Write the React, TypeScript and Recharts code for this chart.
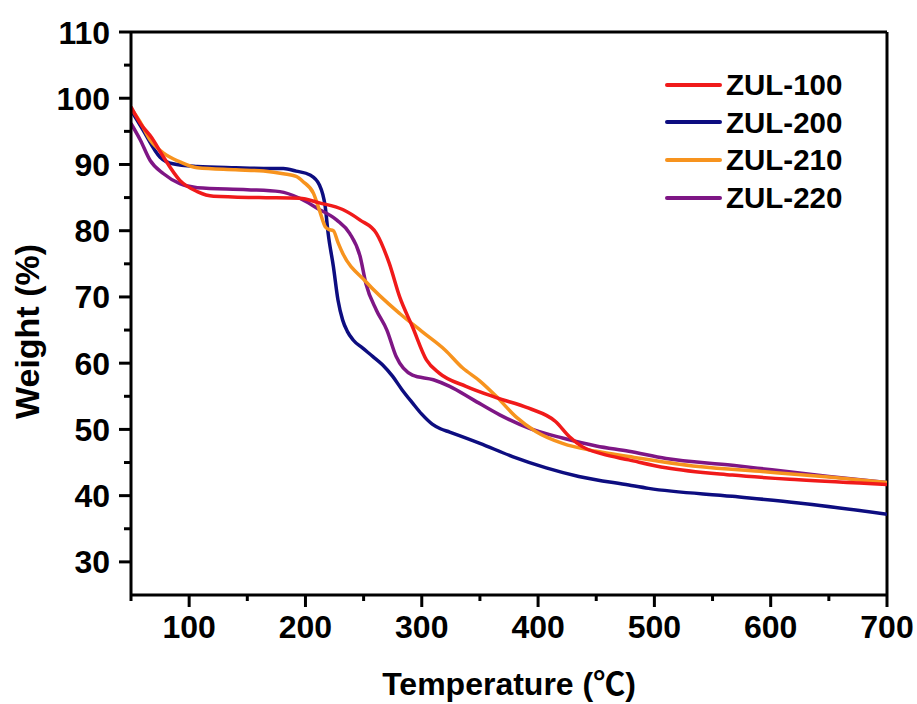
import { LineChart, Line, XAxis, YAxis, Legend, Label, ReferenceLine } from 'recharts';

const FONT = 'Arial, "Liberation Sans", "Noto Sans CJK SC", sans-serif';

// ZUL-100
const t100 = [50, 58, 68, 78, 92, 107, 121, 160, 195, 212, 232, 247, 261, 272, 281, 292, 304, 315, 338, 364, 392, 415, 427, 438, 455, 478, 510, 567, 624, 700];
const w100 = [98.7, 96.2, 94.0, 91.1, 87.6, 85.9, 85.2, 85.0, 84.9, 84.2, 83.2, 81.6, 79.6, 75.1, 70.0, 65.5, 60.5, 58.5, 56.5, 54.8, 53.2, 51.2, 48.9, 47.4, 46.3, 45.4, 44.2, 43.1, 42.4, 41.7];

// ZUL-200
const t200 = [50, 60, 75, 86, 107, 140, 164, 181, 192, 204, 212, 217, 219.5, 224, 228, 232, 236, 241, 249, 258, 266, 275, 283, 292, 300, 309, 316, 324, 350, 378, 407, 435, 478, 495, 567, 624, 700];
const w200 = [98.2, 95.3, 91.1, 90.1, 89.7, 89.5, 89.4, 89.4, 89.0, 88.4, 86.9, 83.6, 79.6, 74.6, 69.5, 66.5, 64.8, 63.5, 62.3, 61.0, 59.8, 58.0, 56.0, 54.0, 52.3, 50.8, 50.1, 49.6, 47.9, 45.9, 44.2, 42.9, 41.6, 41.1, 39.9, 38.9, 37.2];

// ZUL-210
const t210 = [50, 58, 66.5, 78, 92, 107, 140, 164, 181, 192, 198, 207, 212, 217, 220, 224, 228, 232, 252, 281, 300, 320, 335, 350, 364, 381, 398, 421, 450, 478, 538, 595, 650, 700];
const w210 = [98.5, 96.4, 93.7, 91.7, 90.4, 89.5, 89.2, 89.0, 88.6, 88.2, 87.4, 85.6, 83.1, 80.6, 80.2, 80.0, 78.2, 76.6, 72.3, 67.5, 64.8, 62.0, 59.3, 57.3, 55.0, 51.9, 49.7, 47.9, 46.7, 45.9, 44.4, 43.6, 42.8, 42.0];

// ZUL-220
const t220 = [50, 58, 66.5, 78, 92, 107, 150, 178, 195, 210, 227, 238, 247, 252, 261, 270, 278, 292, 310, 324, 344, 367, 392, 421, 450, 478, 510, 567, 601, 650, 700];
const w220 = [96.2, 93.7, 90.6, 88.6, 87.1, 86.5, 86.2, 85.9, 84.9, 83.4, 81.6, 79.6, 76.1, 72.0, 68.0, 65.0, 61.0, 58.2, 57.5, 56.5, 54.5, 52.2, 50.2, 48.7, 47.5, 46.7, 45.6, 44.6, 43.9, 42.9, 42.0];

const xMajor = [100, 200, 300, 400, 500, 600, 700];
const xMinor = [50, 150, 250, 350, 450, 550, 650];
const yMajor = [30, 40, 50, 60, 70, 80, 90, 100, 110];
const yMinor = [35, 45, 55, 65, 75, 85, 95, 105];

const xTicks = [...xMajor, ...xMinor].sort((a, b) => a - b);
const yTicks = [...yMajor, ...yMinor].sort((a, b) => a - b);

const pts = (t: number[], w: number[]) => t.map((x, i) => ({ t: x, w: w[i] }));

const series = [
  { name: 'ZUL-100', color: '#f01a1a', data: pts(t100, w100) },
  { name: 'ZUL-200', color: '#0d0d80', data: pts(t200, w200) },
  { name: 'ZUL-210', color: '#f7931e', data: pts(t210, w210) },
  { name: 'ZUL-220', color: '#7e1685', data: pts(t220, w220) },
];
// drawing order (red on top)
const drawOrder = ['ZUL-200', 'ZUL-220', 'ZUL-210', 'ZUL-100'];

const TS = 12;
const X_TM = 8;
const Y_TM = 9;
const labelProps = { fontSize: 32, fontWeight: 700, fill: '#000', fontFamily: FONT };

function XTick(props: any) {
  const { x, y, payload } = props;
  const major = xMajor.includes(payload.value);
  const y0 = y - TS - X_TM;
  return (
    <g>
      <line x1={x} x2={x} y1={y0} y2={y0 + (major ? 12 : 6)} stroke="#000" strokeWidth={3} />
      {major && (
        <text x={x} y={y} dy="0.72em" textAnchor="middle" {...labelProps}>{payload.value}</text>
      )}
    </g>
  );
}

function YTick(props: any) {
  const { x, y, payload } = props;
  const major = yMajor.includes(payload.value);
  const x0 = x + TS + Y_TM;
  return (
    <g>
      <line x1={x0 - (major ? 12 : 7)} x2={x0} y1={y} y2={y} stroke="#000" strokeWidth={3} />
      {major && (
        <text x={x} y={y} dy="0.36em" textAnchor="end" {...labelProps}>{payload.value}</text>
      )}
    </g>
  );
}

function LegendBox() {
  return (
    <div style={{ fontFamily: FONT }}>
      {series.map((s) => (
        <div key={s.name} style={{ display: 'flex', alignItems: 'center', height: 37.6 }}>
          <svg width={57} height={8}>
            <line x1={2} y1={4} x2={55} y2={4} stroke={s.color} strokeWidth={4} strokeLinecap="round" />
          </svg>
          <span style={{ fontSize: 29.5, fontWeight: 700, color: '#000', marginLeft: 4, lineHeight: 1 }}>{s.name}</span>
        </div>
      ))}
    </div>
  );
}

export default function App() {
  return (
    <div style={{ position: 'absolute', left: 0, top: 0, background: '#fff' }}>
      <LineChart width={917} height={704} margin={{ top: 32, right: 30, left: 0, bottom: 0 }}>
        <XAxis xAxisId="main" type="number" dataKey="t" domain={[50, 700]} ticks={xTicks} allowDataOverflow
          interval={0} height={109} tick={<XTick />} tickSize={TS} tickMargin={X_TM}
          axisLine={{ stroke: '#000', strokeWidth: 3 }} tickLine={false}>
          <Label content={(p: any) => {
            const vb = p.viewBox;
            return (
              <text x={vb.x + vb.width / 2} y={vb.y + vb.height - 9} textAnchor="middle"
                fontSize={32} fontWeight={700} fontFamily={FONT} fill="#000">Temperature (℃)</text>
            );
          }} />
        </XAxis>
        <YAxis yAxisId="main" type="number" domain={[25, 110]} ticks={yTicks} allowDataOverflow
          interval={0} width={131} tick={<YTick />} tickSize={TS} tickMargin={Y_TM}
          axisLine={{ stroke: '#000', strokeWidth: 3 }} tickLine={false}>
          <Label content={(p: any) => {
            const vb = p.viewBox;
            const cx = vb.x + 27;
            const cy = vb.y + vb.height / 2 + 18;
            return (
              <text x={cx} y={cy} transform={`rotate(-90, ${cx}, ${cy})`} textAnchor="middle" dominantBaseline="central"
                fontSize={34} fontWeight={700} fontFamily={FONT} fill="#000">Weight (%)</text>
            );
          }} />
        </YAxis>
        <ReferenceLine xAxisId="main" yAxisId="main" y={110} stroke="#000" strokeWidth={3} />
        <ReferenceLine xAxisId="main" yAxisId="main" x={700} stroke="#000" strokeWidth={3} />
        {drawOrder.map((n) => {
          const s = series.find((x) => x.name === n)!;
          return (
            <Line key={s.name} xAxisId="main" yAxisId="main" data={s.data} dataKey="w" name={s.name}
              type="monotone" stroke={s.color} strokeWidth={3.5} dot={false} activeDot={false}
              isAnimationActive={false} />
          );
        })}
        <Legend layout="vertical" align="center" verticalAlign="middle" content={() => <LegendBox />}
          wrapperStyle={{ left: 665, top: 66, width: 200, height: 160 }} />
      </LineChart>
    </div>
  );
}
